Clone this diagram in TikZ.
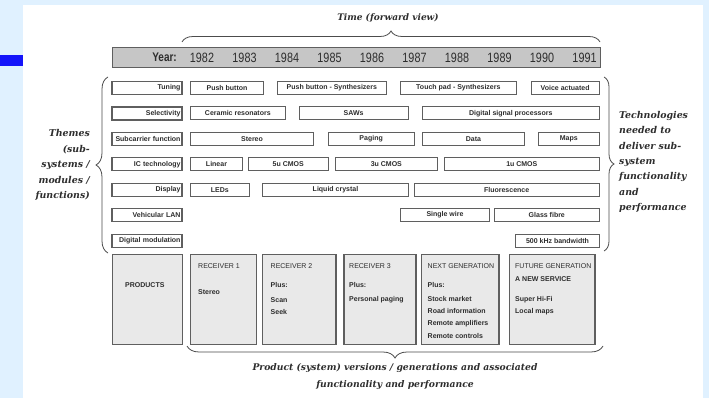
\documentclass[tikz,border=0pt]{standalone}
\usepackage{fontspec}
\newfontfamily\boxfont{Liberation Sans}
\newfontfamily\yearfont[FakeStretch=0.8]{Liberation Sans}
\newfontfamily\notefont{DejaVu Serif}
\usetikzlibrary{decorations.pathreplacing}

\definecolor{pagebg}{RGB}{224,241,255}
\definecolor{accentblue}{RGB}{20,20,250}
\definecolor{ink}{RGB}{45,45,45}
\definecolor{frame}{RGB}{95,95,95}
\definecolor{barfill}{RGB}{198,198,198}
\definecolor{prodfill}{RGB}{233,233,233}

% technology box spanning x1..x2 on the row centred at y
\newcommand\techbox[5]{\node[tbox, minimum width={(#3)-(#2)}] (#1) at ({((#2)+(#3))/2},#4) {#5};}
% theme label on the left of a row
\newcommand\themebox[3]{\node[lbox] (#1) at (147,#2) {#3};}

\begin{document}
\begin{tikzpicture}[x=1pt,y=-1pt,
  tbox/.style={draw=frame, line width=0.8pt, fill=white, inner sep=0pt, minimum height=13pt,
    font=\boxfont\bfseries\fontsize{7}{8}\selectfont, text=ink},
  lbox/.style={draw=frame, line width=1.4pt, fill=white, inner xsep=1.5pt, inner ysep=0pt,
    text width=67pt, align=right, minimum height=13pt,
    font=\boxfont\bfseries\fontsize{7}{8}\selectfont, text=ink},
  pbox/.style={draw=frame, line width=1.1pt, fill=prodfill, inner sep=0pt, minimum height=90pt},
  phead/.style={anchor=base west, inner sep=0pt, font=\boxfont\fontsize{7}{8}\selectfont, text=ink},
  pitem/.style={anchor=base west, inner sep=0pt, font=\boxfont\bfseries\fontsize{7}{8}\selectfont, text=ink},
  yr/.style={inner sep=0pt, font=\yearfont\fontsize{13.5}{14}\selectfont, text=ink},
  note/.style={inner sep=0pt, font=\notefont\bfseries\itshape\fontsize{9.4}{15.4}\selectfont, text=ink},
  curly/.style={draw=ink!85, line width=0.8pt, decorate, decoration={brace, amplitude=#1}},
]
\path[use as bounding box] (0,0) rectangle (709,398);
\fill[pagebg] (0,0) rectangle (709,398);
\fill[white] (23,5) rectangle (703,398);
\fill[accentblue] (0,55) rectangle (23,66);

% time axis
\node[note, font=\notefont\bfseries\itshape\fontsize{9}{11}\selectfont] (timetitle) at (388,18) {Time (forward view)};
\draw[curly=11] (182,42) -- (600,42);
\node[draw=frame, line width=1pt, fill=barfill, minimum width=488pt, minimum height=20pt, inner sep=0pt] (yearbar) at (356,57.7) {};
\node[yr, anchor=east, font=\yearfont\bfseries\fontsize{12.5}{14}\selectfont] (yearlabel) at (177,57.7) {Year:};
\foreach \yy [count=\i from 0] in {1982,...,1991}
  \node[yr] (y\yy) at ({202+42.5*\i},58) {\yy};

% themes
\themebox{tuning}{88}{Tuning}
\themebox{selectivity}{113.4}{Selectivity}
\themebox{subcarrier}{138.9}{Subcarrier function}
\themebox{ictech}{164.3}{IC technology}
\themebox{display}{189.8}{Display}
\themebox{vlan}{215.2}{Vehicular LAN}
\themebox{digmod}{240.7}{Digital modulation}

% technologies per theme
\techbox{pushbtn}{190.7}{263.3}{88}{Push button}
\techbox{pushsyn}{277.7}{386}{88}{Push button - Synthesizers}
\techbox{touchsyn}{400.7}{516}{88}{Touch pad - Synthesizers}
\techbox{voice}{531}{599.3}{88}{Voice actuated}

\techbox{ceramic}{190.7}{285}{113.4}{Ceramic resonators}
\techbox{saws}{299}{408.3}{113.4}{SAWs}
\techbox{dsp}{422.3}{599.3}{113.4}{Digital signal processors}

\techbox{stereo}{190.7}{313.3}{138.9}{Stereo}
\techbox{paging}{328.3}{414}{138.9}{Paging}
\techbox{data}{422.7}{524.3}{138.9}{Data}
\techbox{maps}{538.3}{599.3}{138.9}{Maps}

\techbox{linear}{190.7}{242.3}{164.3}{Linear}
\techbox{cmosfive}{248.3}{328.3}{164.3}{5u CMOS}
\techbox{cmosthree}{335}{437.7}{164.3}{3u CMOS}
\techbox{cmosone}{444.3}{599.3}{164.3}{1u CMOS}

\techbox{leds}{190.7}{249}{189.8}{LEDs}
\techbox{lcd}{262.7}{408.3}{189.8}{Liquid crystal}
\techbox{fluor}{414}{599.3}{189.8}{Fluorescence}

\techbox{singlewire}{400.7}{489.3}{215.2}{Single wire}
\techbox{glassfibre}{494.3}{599.3}{215.2}{Glass fibre}

\techbox{bandwidth}{515.7}{599.3}{240.7}{500 kHz bandwidth}

% side braces and captions
\draw[curly=12] (108,253) -- (108,77);
\node[note, anchor=east, align=right] (themes) at (90,165)
  {Themes\\(sub-\\systems /\\modules /\\functions)};
\draw[curly=10] (604,77) -- (604,251);
\node[note, anchor=west, align=left] (technologies) at (619,162)
  {Technologies\\needed to\\deliver sub-\\system\\functionality\\and\\performance};

% products
\node[pbox, minimum width=70pt] (products) at (147.7,299.3) {};
\node[pbox, minimum width=66pt] (recone) at (223.7,299.3) {};
\node[pbox, minimum width=73.3pt] (rectwo) at (299.35,299.3) {};
\node[pbox, minimum width=72pt] (recthree) at (380,299.3) {};
\node[pbox, minimum width=77.3pt] (nextgen) at (460.35,299.3) {};
\node[pbox, minimum width=85.7pt] (futuregen) at (552.15,299.3) {};

\node[pitem] (prodlabel) at (125,287.5) {PRODUCTS};

\node[phead] (reconehead) at (198,268) {RECEIVER 1};
\node[pitem] (reconestereo) at (198,294) {Stereo};

\node[phead] (rectwohead) at (270.5,268) {RECEIVER 2};
\node[pitem] (rectwoplus) at (270.5,287.5) {Plus:};
\node[pitem] (rectwoscan) at (270.5,302.5) {Scan};
\node[pitem] (rectwoseek) at (270.5,314.3) {Seek};

\node[phead] (recthreehead) at (349,268) {RECEIVER 3};
\node[pitem] (recthreeplus) at (349,287) {Plus:};
\node[pitem] (recthreepaging) at (349,301) {Personal paging};

\node[phead] (nextgenhead) at (427.5,268) {NEXT GENERATION};
\node[pitem] (nextgenplus) at (427.5,287) {Plus:};
\node[pitem] (nextgenstock) at (427.5,301) {Stock market};
\node[pitem] (nextgenroad) at (427.5,313.3) {Road information};
\node[pitem] (nextgenamp) at (427.5,325.8) {Remote amplifiers};
\node[pitem] (nextgenctrl) at (427.5,338) {Remote controls};

\node[phead] (futurehead) at (515,268) {FUTURE GENERATION};
\node[pitem] (futureservice) at (515,281) {A NEW SERVICE};
\node[pitem] (futurehifi) at (515,301) {Super Hi-Fi};
\node[pitem] (futuremaps) at (515,313.3) {Local maps};

% product brace and caption
\draw[curly=12] (603,346) -- (187,346);
\node[note, align=center, font=\notefont\bfseries\itshape\fontsize{9.2}{16.5}\selectfont] (versions) at (395,376.5)
  {Product (system) versions / generations and associated\\functionality and performance};
\end{tikzpicture}
\end{document}
